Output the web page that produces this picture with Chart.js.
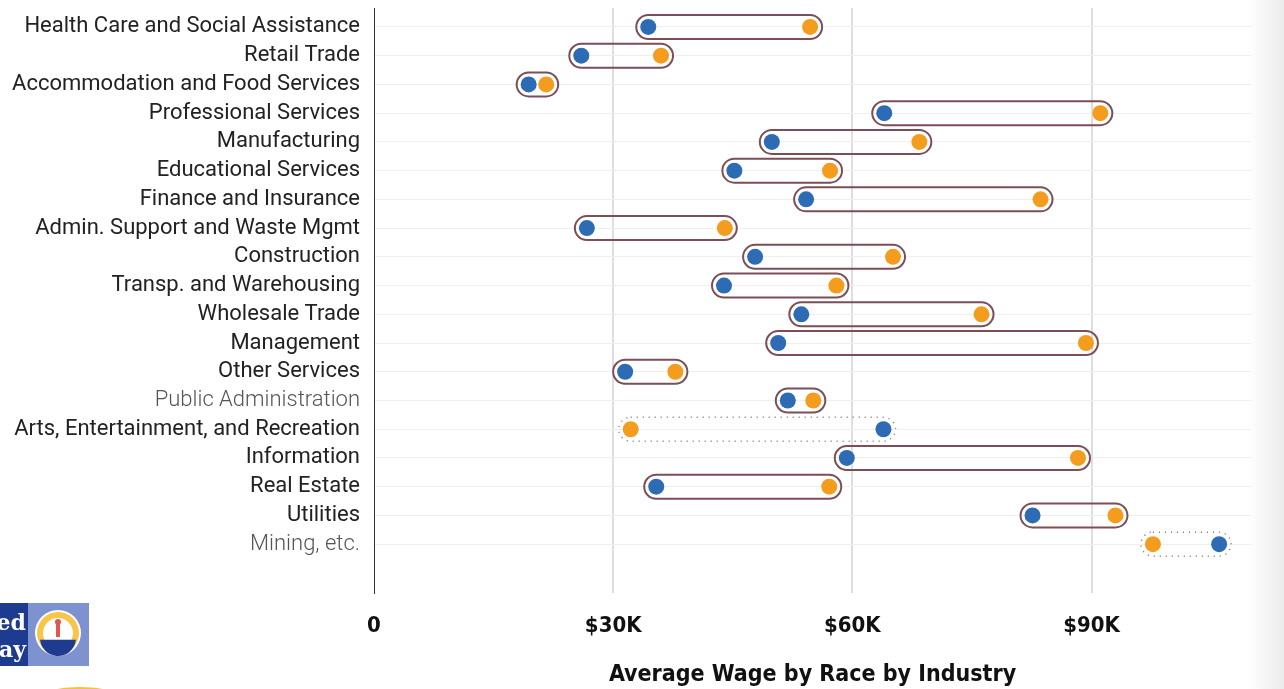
<!DOCTYPE html>
<html lang="en">
<head>
    <meta charset="UTF-8">
    <title>Average Wage by Race by Industry</title>
    <style>
        html, body { margin: 0; padding: 0; background: #fff; }
        #chartContainer { width: 1284px; height: 689px; position: relative; }
    </style>
    <script src="https://cdn.jsdelivr.net/npm/chart.js@4/dist/chart.umd.min.js"></script>
</head>
<body>
    <div id="chartContainer">
        <canvas id="chart"></canvas>
    </div>
    <script>
        // datos (dolares)
        const industries = [
            'Health Care and Social Assistance', 'Retail Trade', 'Accommodation and Food Services',
            'Professional Services', 'Manufacturing', 'Educational Services', 'Finance and Insurance',
            'Admin. Support and Waste Mgmt', 'Construction', 'Transp. and Warehousing', 'Wholesale Trade',
            'Management', 'Other Services', 'Public Administration', 'Arts, Entertainment, and Recreation',
            'Information', 'Real Estate', 'Utilities', 'Mining, etc.'
        ];
        const blueWage = [34400, 26000, 19400, 64000, 49900, 45200, 54200, 26700, 47800, 43900,
                          53600, 50700, 31500, 51900, 63900, 59300, 35400, 82600, 106000];
        const orangeWage = [54700, 36000, 21600, 91100, 68400, 57200, 83600, 44000, 65100, 58000,
                            76200, 89300, 37800, 55100, 32200, 88300, 57100, 93000, 97700];
        const lightLabels = ['Public Administration', 'Mining, etc.'];
        const xTicks = [0, 30000, 60000, 90000];

        const BLUE = '#2d6bb5';
        const ORANGE = '#f39c1e';
        const CONDENSED = '"DejaVu Sans Condensed", "Liberation Sans Narrow", Roboto, sans-serif';

        // capsulas alrededor de cada par de puntos
        const capsules = {
            id: 'capsules',
            beforeDatasetsDraw(chart) {
                const { ctx, scales: { x, y } } = chart;
                ctx.save();
                industries.forEach((name, i) => {
                    const b = blueWage[i], o = orangeWage[i];
                    const x1 = x.getPixelForValue(Math.min(b, o)) - 12;
                    const x2 = x.getPixelForValue(Math.max(b, o)) + 12;
                    const cy = y.getPixelForValue(i);
                    const r = 12;
                    ctx.beginPath();
                    ctx.moveTo(x1 + r, cy - r);
                    ctx.lineTo(x2 - r, cy - r);
                    ctx.arc(x2 - r, cy, r, -Math.PI / 2, Math.PI / 2);
                    ctx.lineTo(x1 + r, cy + r);
                    ctx.arc(x1 + r, cy, r, Math.PI / 2, Math.PI * 1.5);
                    ctx.closePath();
                    if (b > o) {
                        ctx.setLineDash([1, 5]);
                        ctx.strokeStyle = '#777';
                        ctx.lineWidth = 1.5;
                    } else {
                        ctx.setLineDash([]);
                        ctx.strokeStyle = '#7b4e58';
                        ctx.lineWidth = 2;
                    }
                    ctx.stroke();
                });
                ctx.restore();
            }
        };

        // logo y sombra del borde derecho
        const extras = {
            id: 'extras',
            afterDraw(chart) {
                const ctx = chart.ctx;
                ctx.save();
                const g = ctx.createLinearGradient(1248, 0, 1284, 0);
                g.addColorStop(0, 'rgba(235,235,235,0)');
                g.addColorStop(1, 'rgba(235,235,235,1)');
                ctx.fillStyle = g;
                ctx.fillRect(1248, 0, 36, 689);

                // logo recortado abajo a la izquierda
                ctx.fillStyle = '#1d3b8f';
                ctx.fillRect(0, 603, 28, 63);
                ctx.fillStyle = '#7e92cf';
                ctx.fillRect(28, 603, 61, 63);
                ctx.fillStyle = '#fff';
                ctx.font = 'bold 22px "DejaVu Serif", serif';
                ctx.textAlign = 'right';
                ctx.fillText('ed', 26, 630);
                ctx.fillText('ay', 26, 657);
                ctx.beginPath();
                ctx.arc(58, 633, 23, 0, Math.PI * 2);
                ctx.fillStyle = '#fff';
                ctx.fill();
                ctx.beginPath();
                ctx.arc(58, 633, 21, 0, Math.PI * 2);
                ctx.fillStyle = '#f6c54a';
                ctx.fill();
                ctx.beginPath();
                ctx.arc(58, 633, 15, 0, Math.PI * 2);
                ctx.fillStyle = '#fff';
                ctx.fill();
                ctx.beginPath();
                ctx.arc(58, 638, 18, 0.1, Math.PI - 0.1);
                ctx.fillStyle = '#1d3b8f';
                ctx.fill();
                ctx.fillStyle = '#e2574c';
                ctx.beginPath();
                ctx.arc(58, 622, 3, 0, Math.PI * 2);
                ctx.fill();
                ctx.fillRect(56, 624, 4, 13);
                ctx.fillStyle = '#f2c23c';
                ctx.beginPath();
                ctx.ellipse(80, 693, 30, 6, 0, 0, Math.PI * 2);
                ctx.fill();
                ctx.restore();
            }
        };

        const ctx = document.getElementById('chart').getContext('2d');
        new Chart(ctx, {
            type: 'scatter',
            data: {
                datasets: [
                    {
                        label: 'Orange',
                        data: orangeWage.map((v, i) => ({ x: v, y: i })),
                        backgroundColor: ORANGE,
                        borderWidth: 0,
                        pointRadius: 8
                    },
                    {
                        label: 'Blue',
                        data: blueWage.map((v, i) => ({ x: v, y: i })),
                        backgroundColor: BLUE,
                        borderWidth: 0,
                        pointRadius: 8
                    }
                ]
            },
            options: {
                responsive: true,
                maintainAspectRatio: false,
                animation: false,
                layout: { padding: { left: 0, right: 33, top: 7, bottom: 0 } },
                plugins: {
                    legend: { display: false },
                    tooltip: { enabled: false }
                },
                scales: {
                    x: {
                        type: 'linear',
                        min: 0,
                        max: 110000,
                        afterBuildTicks: s => { s.ticks = xTicks.map(v => ({ value: v })); },
                        afterFit: s => { s.height = 96; s.paddingLeft = 0; s.paddingRight = 0; },
                        border: { display: false },
                        grid: {
                            drawTicks: false,
                            lineWidth: 2,
                            color: ctx => ctx.tick && ctx.tick.value === 0 ? 'rgba(0,0,0,0)' : '#dedede'
                        },
                        ticks: {
                            padding: 20,
                            color: '#111',
                            font: { family: CONDENSED, size: 22, weight: 'bold' },
                            callback: v => v === 0 ? '0' : '$' + (v / 1000) + 'K'
                        },
                        title: {
                            display: true,
                            text: 'Average Wage by Race by Industry',
                            color: '#111',
                            padding: { top: 0, bottom: 0 },
                            font: { family: CONDENSED, size: 23, weight: 'bold' }
                        }
                    },
                    y: {
                        type: 'linear',
                        reverse: true,
                        min: -0.66,
                        max: 19.7,
                        afterBuildTicks: s => { s.ticks = industries.map((n, i) => ({ value: i })); },
                        afterFit: s => { s.width = 374; s.paddingTop = 0; s.paddingBottom = 0; },
                        border: { display: true, color: '#333', width: 1 },
                        grid: { drawTicks: false, color: '#efefef', lineWidth: 1 },
                        ticks: {
                            padding: 14,
                            autoSkip: false,
                            color: c => lightLabels.includes(industries[c.index]) ? '#555' : '#222',
                            font: c => ({
                                family: 'Roboto, sans-serif',
                                size: 22,
                                weight: lightLabels.includes(industries[c.index]) ? 300 : 400
                            }),
                            callback: v => industries[v]
                        }
                    }
                }
            },
            plugins: [capsules, extras]
        });
    </script>
</body>
</html>
